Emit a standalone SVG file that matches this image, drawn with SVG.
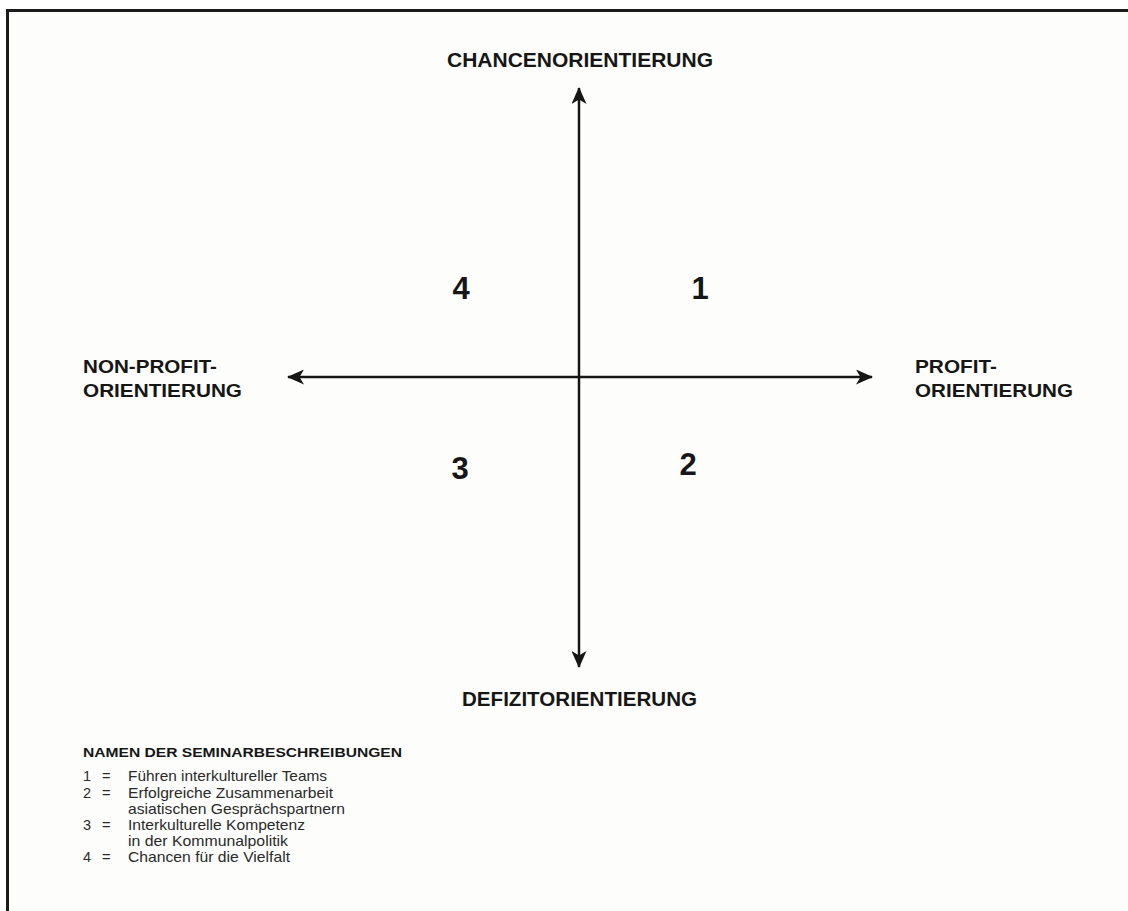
<svg xmlns="http://www.w3.org/2000/svg" width="1128" height="911" viewBox="0 0 1128 911">
<style>
.lbl{font-family:"Liberation Sans",Arial,sans-serif;font-weight:bold;fill:#161616}
.num{font-family:"Liberation Sans",Arial,sans-serif;font-weight:bold;fill:#161616;font-size:31px;text-anchor:middle}
.leg{font-family:"Liberation Sans",Arial,sans-serif;fill:#2a2a2a;font-size:14.5px}
.axis{stroke:#161616;stroke-width:2.5;fill:none}
</style>
<defs>
<marker id="ah" viewBox="0 0 17 15" refX="16" refY="7.5" markerWidth="17" markerHeight="15" markerUnits="userSpaceOnUse" orient="auto-start-reverse">
<path d="M0,0 L17,7.5 L0,15 L4.5,7.5 Z" fill="#161616"/>
</marker>
</defs>
<rect x="0" y="0" width="1128" height="911" fill="#ffffff"/>
<rect x="7" y="10" width="1121" height="901" fill="#fdfdfb"/>
<g id="frame">
<line x1="7.5" y1="10.5" x2="1128" y2="10.5" stroke="#1a1a1a" stroke-width="3"/>
<line x1="7.5" y1="9" x2="7.5" y2="911" stroke="#1a1a1a" stroke-width="3"/>
</g>
<g id="connectors">
<line class="axis" x1="579" y1="377" x2="579" y2="88" marker-end="url(#ah)"/>
<line class="axis" x1="579" y1="377" x2="579" y2="667" marker-end="url(#ah)"/>
<line class="axis" x1="579" y1="377" x2="288" y2="377" marker-end="url(#ah)"/>
<line class="axis" x1="579" y1="377" x2="872" y2="377" marker-end="url(#ah)"/>
</g>
<g id="top-label"><text class="lbl" x="447" y="67" font-size="20.5" textLength="266" lengthAdjust="spacingAndGlyphs">CHANCENORIENTIERUNG</text></g>
<g id="bottom-label"><text class="lbl" x="462" y="706" font-size="20.5" textLength="235" lengthAdjust="spacingAndGlyphs">DEFIZITORIENTIERUNG</text></g>
<g id="left-label">
<text class="lbl" x="83" y="373" font-size="17.5" textLength="134" lengthAdjust="spacingAndGlyphs">NON-PROFIT-</text>
<text class="lbl" x="83" y="397" font-size="17.5" textLength="159" lengthAdjust="spacingAndGlyphs">ORIENTIERUNG</text>
</g>
<g id="right-label">
<text class="lbl" x="915" y="373" font-size="17.5" textLength="82" lengthAdjust="spacingAndGlyphs">PROFIT-</text>
<text class="lbl" x="915" y="397" font-size="17.5" textLength="158" lengthAdjust="spacingAndGlyphs">ORIENTIERUNG</text>
</g>
<g id="q1"><text class="num" x="700" y="299">1</text></g>
<g id="q2"><text class="num" x="688" y="475">2</text></g>
<g id="q3"><text class="num" x="460" y="479">3</text></g>
<g id="q4"><text class="num" x="461" y="299">4</text></g>
<g id="legend">
<text class="lbl" x="83" y="757" font-size="13.5" textLength="319" lengthAdjust="spacingAndGlyphs">NAMEN DER SEMINARBESCHREIBUNGEN</text>
<text class="leg" x="83" y="781">1</text><text class="leg" x="102" y="781">=</text>
<text class="leg" x="128" y="781" textLength="199" lengthAdjust="spacingAndGlyphs">Führen interkultureller Teams</text>
<text class="leg" x="83" y="797.5">2</text><text class="leg" x="102" y="797.5">=</text>
<text class="leg" x="128" y="797.5" textLength="205" lengthAdjust="spacingAndGlyphs">Erfolgreiche Zusammenarbeit</text>
<text class="leg" x="128" y="814" textLength="217" lengthAdjust="spacingAndGlyphs">asiatischen Gesprächspartnern</text>
<text class="leg" x="83" y="830">3</text><text class="leg" x="102" y="830">=</text>
<text class="leg" x="128" y="830" textLength="177" lengthAdjust="spacingAndGlyphs">Interkulturelle Kompetenz</text>
<text class="leg" x="128" y="846" textLength="160" lengthAdjust="spacingAndGlyphs">in der Kommunalpolitik</text>
<text class="leg" x="83" y="862">4</text><text class="leg" x="102" y="862">=</text>
<text class="leg" x="128" y="862" textLength="162" lengthAdjust="spacingAndGlyphs">Chancen für die Vielfalt</text>
</g>
</svg>
